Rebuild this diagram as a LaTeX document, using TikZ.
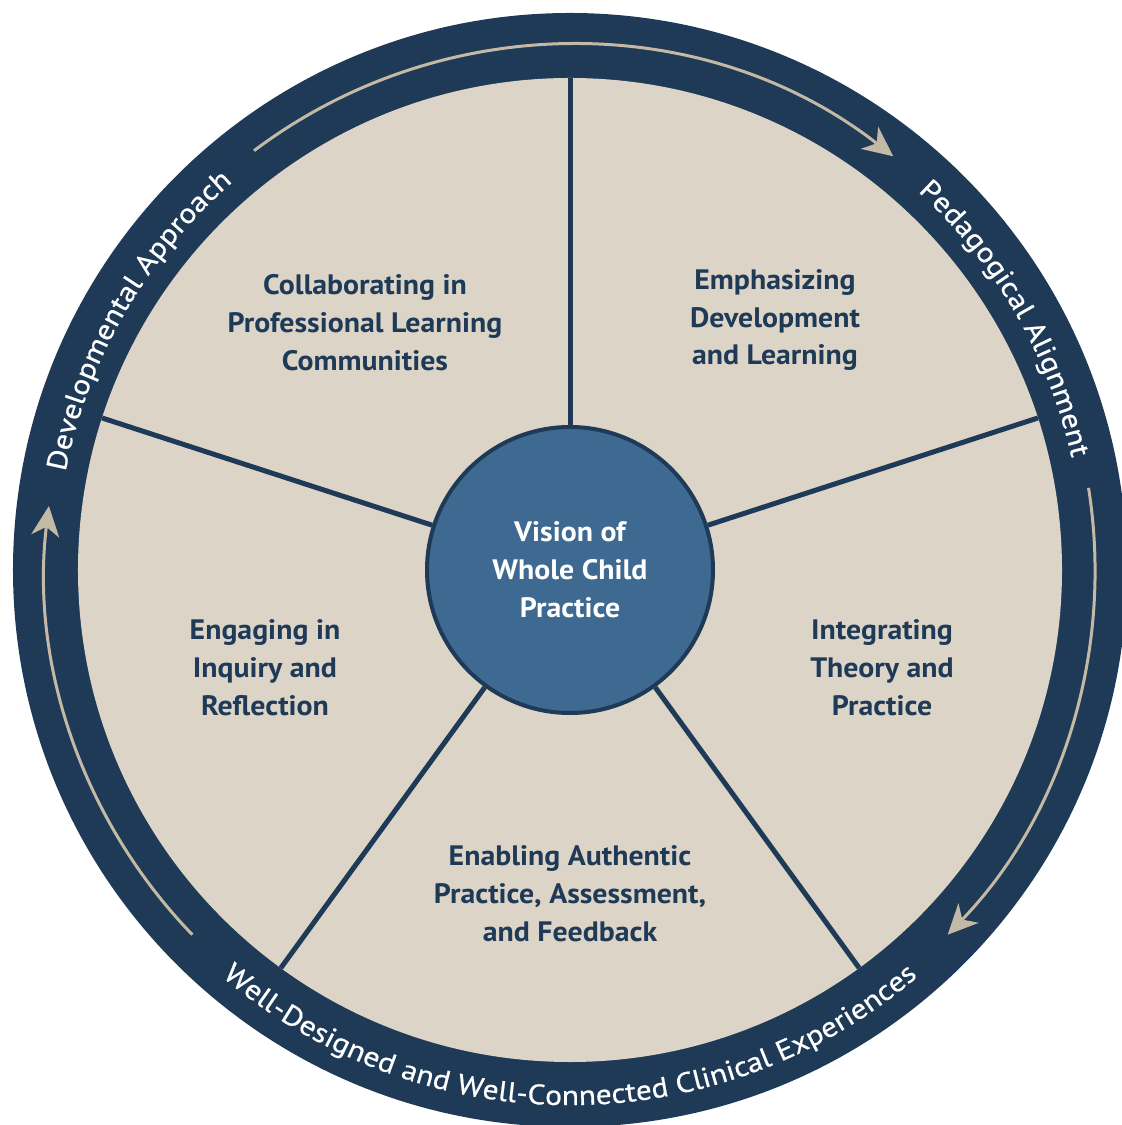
\documentclass[tikz,border=0pt]{standalone}
\usepackage{fontspec}
\setmainfont{PT Sans}[FakeStretch=1.06]
\newfontfamily\ringfont[FakeStretch=1.12,FakeBold=0.6]{PT Sans}
\usetikzlibrary{arrows.meta,decorations.text}
\definecolor{navy}{HTML}{1E3A57}
\definecolor{sand}{HTML}{DCD4C7}
\definecolor{steel}{HTML}{3E6990}
\definecolor{taupe}{HTML}{C4B9A5}
\def\ringarrow(#1:#2){\draw[taupe, line width=0.06cm, -{Stealth[length=0.6cm,width=0.56cm,inset=0.18cm]}] (#1:10.5) arc (#1:#2:10.5);}

\begin{document}
\begin{tikzpicture}[
		sector/.style={text=navy, font=\fontsize{16}{21.6}\selectfont\bfseries, align=center},
		ringtext/.style={decorate, decoration={text along path, text align=center, text={|\fontsize{16}{19}\ringfont\color{white}|#1}}}
	]
			%%%%% START %%%%%
			
			\useasboundingbox (-11.4, -11.1) rectangle (11.02, 11.4);
			
			\fill[navy] (0, 0) circle (11.14);
			\fill[sand] (0, 0) circle (9.84);
			
			\node[circle, minimum size=5.72cm, fill=steel, draw=navy, line width=0.08cm, text=white, font=\fontsize{16}{21.6}\selectfont\bfseries, align=center] (vision) at (0, 0) {Vision of\\Whole Child\\Practice};
			
			\foreach \a in {90, 18, -54, -126, 162}
			{
				\coordinate (rim\a) at (\a:9.84);
				\draw[navy, line width=0.1cm] (vision.\a) -- (rim\a);
			}
			
			\node[sector] (collab) at (-4.1, 4.94) {Collaborating in\\Professional Learning\\Communities};
			\node[sector] (emph) at (4.1, 5.0) {Emphasizing\\Development\\and Learning};
			\node[sector] (integ) at (6.24, -1.96) {Integrating\\Theory and\\Practice};
			\node[sector] (enab) at (0, -6.48) {Enabling Authentic\\Practice, Assessment,\\and Feedback};
			\node[sector] (engag) at (-6.1, -1.96) {Engaging in\\Inquiry and\\Reflection};
			
			\ringarrow(127:52)
			\ringarrow(9:-44)
			\ringarrow(224:173)
			
			\path[ringtext=Developmental Approach] (185:10.28) arc (185:115:10.28);
			\path[ringtext=Pedagogical Alignment] (65:10.28) arc (65:-5:10.28);
			\path[ringtext=Well-Designed and Well-Connected Clinical Experiences] (200:10.7) arc (200:340:10.7);
			
			%%%%% END %%%%%
\end{tikzpicture}
\end{document}
